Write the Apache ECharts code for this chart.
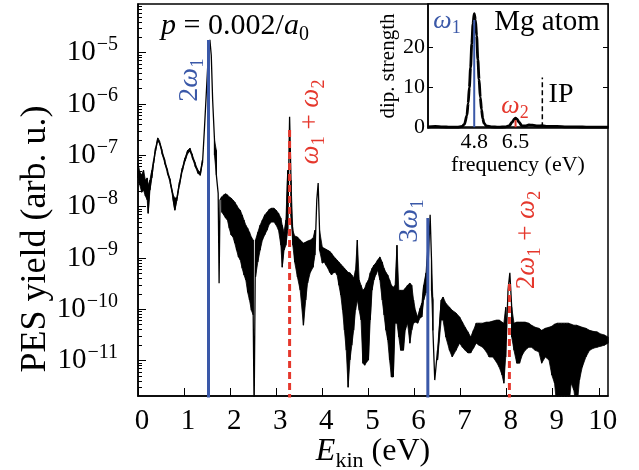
<!DOCTYPE html>
<html><head><meta charset="utf-8">
<script src="https://cdn.jsdelivr.net/npm/echarts@6/dist/echarts.min.js"></script>
<style>html,body{margin:0;padding:0;background:#fff}#c{width:639px;height:470px}</style>
</head><body><div id="c"></div>
<script>
// ---- main spectrum: kinetic energy (eV) and log10(PES yield); hi/lo = extremes of the fast oscillation (null = single point)
const curveE = [0.00,0.04,0.08,0.12,0.16,0.20,0.22,0.26,0.30,0.34,0.38,0.43,0.47,0.52,0.58,0.64,0.70,0.76,0.80,0.84,0.90,0.96,1.02,1.08,1.13,1.18,1.24,1.30,1.35,1.40,1.44,1.48,1.52,1.56,1.59,1.62,1.66,1.70,1.74,1.76,1.78,
1.82,1.86,1.90,1.94,1.98,2.02,2.06,2.10,2.14,2.18,2.22,2.26,2.30,2.34,2.38,2.42,2.46,2.50,2.52,2.55,2.60,2.65,2.70,2.75,2.80,2.85,2.90,2.95,3.00,3.05,3.10,3.13,3.17,3.21,3.25,3.29,3.32,3.36,3.40,3.46,3.52,3.59,3.64,3.68,3.74,3.80,3.84,3.88,3.91,3.94,
4.00,4.04,4.08,4.12,4.16,4.20,4.24,4.28,4.32,4.36,4.40,4.44,4.48,4.52,4.56,4.60,4.64,4.68,4.72,4.76,4.80,4.84,4.88,4.92,4.96,5.00,5.04,5.08,5.12,5.16,5.20,5.25,5.30,5.34,5.38,5.42,5.46,5.50,5.54,5.58,5.62,5.66,5.70,5.76,5.80,5.85,5.90,5.94,5.98,
6.02,6.07,6.12,6.16,6.20,6.25,6.30,6.34,6.37,6.40,6.44,6.50,6.58,6.62,6.68,6.76,6.82,6.90,6.98,7.04,7.10,7.16,7.22,7.28,7.34,7.40,7.48,7.56,7.62,7.70,7.78,7.84,7.90,7.94,7.98,8.03,8.07,8.11,8.16,8.22,8.28,8.34,8.40,8.48,8.54,8.62,8.70,8.76,8.84,8.92,8.98,
9.04,9.10,9.16,9.22,9.28,9.34,9.40,9.46,9.52,9.58,9.64,9.72,9.80,9.88,9.96,10.04,10.12,10.20];
const curveHi = [-7.15,-7.33,-7.38,-7.29,-7.48,-7.44,-7.58,-7.48,-7.29,-7.09,-6.86,-6.66,-6.72,-6.90,-7.09,-7.29,-7.48,-7.77,-7.83,-7.83,-7.52,-7.25,-7.05,-6.90,-6.86,-6.99,-7.15,-7.29,-7.33,-7.09,-6.51,-5.83,-5.14,-4.75,-5.05,-5.92,-6.70,-6.90,-7.74,-9.49,-7.87,
-7.81,-7.77,-7.75,-7.77,-7.81,-7.83,-7.87,-7.91,-7.97,-8.03,-8.07,-8.16,-8.26,-8.36,-8.42,-8.50,-8.59,-8.65,-12,-8.65,-8.50,-8.36,-8.26,-8.16,-8.11,-8.05,-8.03,-8.03,-8.07,-8.13,-8.22,-8.36,-8.50,-8.26,-7.29,-6.25,-7.48,-8.46,-8.57,-8.59,-8.65,-8.71,-8.69,-8.67,-8.65,-8.61,-8.46,-7.87,-7.54,-8.46,
-8.79,-8.81,-8.83,-8.85,-8.87,-8.91,-8.96,-9.00,-9.04,-9.08,-9.12,-9.16,-9.20,-9.24,-9.28,-9.29,-9.33,-9.39,-9.24,-8.65,-9.43,-9.53,-9.63,-9.59,-9.49,-9.43,-9.29,-9.20,-9.14,-9.10,-9.04,-8.98,-9.08,-9.20,-9.28,-9.33,-9.43,-9.53,-9.57,-9.53,-8.75,-9.63,-9.63,-9.63,-9.59,-9.53,-9.49,-9.53,-9.82,
-10.02,-10.15,-9.98,-9.88,-9.53,-9.29,-8.65,-8.16,-9.04,-9.82,-11.38,-10.80,-9.82,-9.76,-9.88,-9.96,-10.02,-10.07,-10.15,-10.25,-10.35,-10.44,-10.54,-10.41,-10.27,-10.27,-10.27,-10.25,-10.25,-10.23,-10.21,-10.21,-10.25,-10.27,-9.96,-9.63,-9.29,-9.96,-10.27,-10.25,-10.25,-10.25,-10.25,-10.27,-10.31,-10.35,-10.37,-10.41,-10.37,-10.35,-10.33,
-10.29,-10.27,-10.27,-10.27,-10.27,-10.27,-10.29,-10.31,-10.31,-10.33,-10.35,-10.37,-10.41,-10.43,-10.44,-10.48,-10.50,-10.54];
const curveLo = [-7.44,-7.58,-7.72,-7.68,-7.79,-7.87,-8.13,-7.68,-7.44,-7.15,-6.92,-6.70,-6.77,-6.96,-7.15,-7.35,-7.54,-7.85,-8.07,-7.89,-7.58,-7.31,-7.11,-6.96,-6.92,-7.05,-7.21,-7.35,-7.39,-7.15,null,null,null,null,null,null,-7.00,-7.38,null,null,null,
-8.11,-8.16,-8.22,-8.26,-8.42,-8.55,-8.59,-8.71,-8.85,-8.98,-9.04,-9.20,-9.33,-9.43,-9.67,-9.82,-10.02,-10.11,null,-9.37,-9.08,-8.85,-8.65,-8.55,-8.46,-8.34,-8.30,-8.30,-8.36,-8.46,-8.75,-9.18,-8.85,-8.75,-8.46,null,-8.16,-8.75,-9.08,-9.37,-9.63,-10.31,-9.82,-9.49,-9.28,-9.18,-8.94,null,null,-8.85,
-9.10,-9.08,-9.14,-9.20,-9.28,-9.33,-9.29,-9.28,-9.33,-9.53,-9.72,-10.02,-10.41,-10.80,-11.52,-10.99,-10.70,-10.41,-10.02,-9.82,-10.02,-10.21,-11.05,-11.09,-11.03,-10.99,-10.21,-9.63,-9.43,-9.33,-9.24,-9.43,-9.82,-10.11,-10.41,-10.60,-10.99,-11.32,-11.32,-10.27,-10.27,-10.54,-10.80,-10.80,-10.41,-10.27,-10.66,-10.41,-10.27,
-10.25,-10.27,-10.17,-10.15,-9.82,-9.68,-9.04,null,-9.63,-10.41,null,-10.99,-10.21,-10.21,-10.54,-10.80,-10.93,-10.80,-10.66,-10.74,-10.80,-10.85,-10.85,-10.76,-10.66,-10.70,-10.74,-10.83,-10.93,-10.93,-11.03,-11.13,-11.28,-11.44,-10.93,null,null,-10.54,-10.80,-11.05,-11.05,-10.89,-10.80,-10.74,-10.74,-10.80,-10.83,-11.05,-10.93,-10.99,-11.28,
-11.44,-12,-12,-12,-12,-12,-11.44,-11.58,-12,-11.38,-11.13,-10.93,-10.80,-10.76,-10.74,-10.72,-10.70,-10.66];
// marker lines: 2w1, 3w1 (blue) and w1+w2, 2w1+w2 (red dashed); energies and log10 tops
const harmonicE = [1.53, 6.29], harmonicTop = [-4.75, -8.22];
const mixE = [3.29, 8.06], mixTop = [-6.45, -9.43];
const xTickVals = [0,1,2,3,4,5,6,7,8,9,10];
const yTickExp = [-11,-10,-9,-8,-7,-6,-5];
// ---- inset: dipole strength vs frequency
const insetE = [2.9,3.2,3.5,3.8,4.1,4.3,4.4,4.5,4.55,4.6,4.65,4.7,4.75,4.8,4.85,4.9,4.95,5.0,5.05,5.1,5.15,5.2,5.3,5.5,5.8,6.1,6.25,6.35,6.45,6.5,6.55,6.65,6.75,6.9,7.05,7.2,7.4,7.6,7.8,8.2,8.6,9.0,9.5,10.3];
const insetS = [0.1,0.2,0.1,0.0,0.0,0.2,0.8,3,6,10,15,21,26,28.6,27,23,17,12,7.5,4.5,2.2,1.0,0.3,0.1,0.0,0.1,0.4,1.2,2.0,2.3,2.1,1.2,0.4,0.3,0.6,0.5,0.3,0.4,0.2,0.2,0.1,0.1,0.0,0.0];
const insetXTicks = [4.8, 6.5], insetYTicks = [0,10,20];
const omega1 = 4.8, omega1Top = 27, omega2 = 6.5, omega2Top = 1.8, ipE = 7.6, ipTop = 12.5;

const FONT = 'Liberation Serif';
const BLUE = '#3a58a8', RED = '#e5372c';
const yMin = -11.69, yMax = -4.05;

const curve = [];
curveE.forEach((e, i) => {
  curve.push([e, curveHi[i]]);
  if (curveLo[i] !== null) curve.push([e, curveLo[i]]);
});
// contiguous runs where the trace oscillates fast (drawn as a filled band)
const bands = [];
let run = null;
curveE.forEach((e, i) => {
  if (curveLo[i] !== null) { if (!run) { run = []; bands.push(run); } run.push(i); }
  else run = null;
});
const minorVals = [];
for (let n = -12; n <= -5; n++) for (let k = 2; k <= 9; k++) {
  const v = n + Math.log10(k);
  if (v > yMin && v < yMax) minorVals.push(v);
}
const vline = (e, top, color, type, width, xi, yi, bottom) => ({
  type: 'line', xAxisIndex: xi, yAxisIndex: yi, data: [[e, bottom], [e, top]],
  showSymbol: false, silent: true, z: 4, clip: true,
  lineStyle: { color, width, type }
});

const chart = echarts.init(document.getElementById('c'), null, { renderer: 'canvas' });
const txt = (x, y, text, size, color, rot, rich) => ({
  type: 'text', x, y, rotation: rot || 0, z: 100,
  style: { text, fill: color, fontFamily: FONT, fontSize: size, align: 'center', verticalAlign: 'middle', rich: rich || {} }
});
const mathRich = (size, color) => ({
  i: { fontStyle: 'italic', fontSize: size, fontFamily: FONT, color },
  r: { fontSize: size, fontFamily: FONT, color },
  sub: { fontSize: Math.round(size * 0.68), fontFamily: FONT, color, padding: [Math.round(size * 0.58), 0, 0, 0] }
});

chart.setOption({
  animation: false,
  grid: [
    { left: 138, top: 4, width: 470, height: 392, show: true, borderColor: '#000', borderWidth: 1.5, backgroundColor: 'rgba(0,0,0,0)' },
    { left: 428, top: 4, width: 180, height: 124, show: true, borderColor: '#000', borderWidth: 1.5, backgroundColor: '#fff' }
  ],
  xAxis: [
    { gridIndex: 0, type: 'value', min: 0, max: 10.2,
      axisLine: { lineStyle: { color: '#000', width: 1.5 } },
      axisTick: { inside: true, length: 8, customValues: xTickVals, lineStyle: { color: '#000', width: 1 } },
      axisLabel: { customValues: xTickVals, fontFamily: FONT, fontSize: 29, color: '#000', margin: 11, padding: [0, 0, 0, 8], hideOverlap: false },
      splitLine: { show: false } },
    { gridIndex: 1, type: 'value', min: 2.9, max: 10.3,
      axisLine: { lineStyle: { color: '#000', width: 1.5 } },
      axisTick: { inside: true, length: 4, customValues: insetXTicks, lineStyle: { color: '#000' } },
      axisLabel: { customValues: insetXTicks, formatter: v => v.toFixed(1), fontFamily: FONT, fontSize: 22, color: '#000', margin: 3, hideOverlap: false },
      splitLine: { show: false },
      name: 'frequency (eV)', nameLocation: 'middle', nameGap: 15,
      nameTextStyle: { fontFamily: FONT, fontSize: 22, color: '#000' } }
  ],
  yAxis: [
    { gridIndex: 0, type: 'value', min: yMin, max: yMax, position: 'left',
      axisLine: { lineStyle: { color: '#000', width: 1.5 } },
      axisTick: { inside: true, length: 8, customValues: yTickExp, lineStyle: { color: '#000', width: 1 } },
      axisLabel: { customValues: yTickExp, margin: 20, hideOverlap: false, formatter: v => '{b|10}{s|−' + Math.round(-v) + '}',
        rich: { b: { fontFamily: FONT, fontSize: 29, color: '#000' },
                s: { fontFamily: FONT, fontSize: 20, color: '#000', padding: [0, 0, 16, 1] } } },
      splitLine: { show: false } },
    { gridIndex: 0, type: 'value', min: yMin, max: yMax, position: 'left', offset: 0,
      axisLine: { show: false },
      axisTick: { inside: true, length: 4, customValues: minorVals, lineStyle: { color: '#000', width: 1 } },
      axisLabel: { show: false }, splitLine: { show: false } },
    { gridIndex: 1, type: 'value', min: -0.2, max: 31, position: 'left',
      axisLine: { lineStyle: { color: '#000', width: 1.5 } },
      axisTick: { inside: true, length: 5, customValues: insetYTicks, lineStyle: { color: '#000' } },
      axisLabel: { customValues: insetYTicks, fontFamily: FONT, fontSize: 22, color: '#000', margin: 3, hideOverlap: false },
      splitLine: { show: false },
      name: 'dip. strength', nameLocation: 'middle', nameGap: 27, nameRotate: 90,
      nameTextStyle: { fontFamily: FONT, fontSize: 21, color: '#000' } },
    { gridIndex: 1, type: 'value', min: -0.2, max: 31, position: 'right', offset: 0,
      axisLine: { show: false },
      axisTick: { inside: true, length: 5, customValues: insetYTicks, lineStyle: { color: '#000' } },
      axisLabel: { show: false }, splitLine: { show: false } }
  ],
  series: [
    { type: 'custom', xAxisIndex: 0, yAxisIndex: 0, clip: true, z: 3, silent: true,
      data: bands.map((b, k) => [curveE[b[0]], curveHi[b[0]], k]),
      encode: { x: 0, y: 1 },
      renderItem: (params, api) => {
        const idx = bands[params.dataIndex];
        const top = idx.map(i => api.coord([curveE[i], curveHi[i]]));
        const bot = idx.slice().reverse().map(i => api.coord([curveE[i], curveLo[i]]));
        return { type: 'polygon', shape: { points: top.concat(bot) }, style: { fill: '#000', stroke: '#000', lineWidth: 0.8 } };
      } },
    { type: 'line', xAxisIndex: 0, yAxisIndex: 0, data: curve, showSymbol: false, clip: true, z: 3,
      lineStyle: { color: '#000', width: 1.3 } },
    vline(harmonicE[0], harmonicTop[0], BLUE, 'solid', 3, 0, 0, -12),
    vline(harmonicE[1], harmonicTop[1], BLUE, 'solid', 3, 0, 0, -12),
    vline(mixE[0], mixTop[0], RED, [7, 4], 3, 0, 0, -12),
    vline(mixE[1], mixTop[1], RED, [7, 4], 3, 0, 0, -12),
    { type: 'line', xAxisIndex: 1, yAxisIndex: 2, data: insetE.map((e, i) => [e, insetS[i]]), showSymbol: false, clip: true, z: 5,
      smooth: 0.3, smoothMonotone: 'x', lineStyle: { color: '#000', width: 2.8 } },
    Object.assign(vline(omega1, omega1Top, BLUE, 'solid', 2, 1, 2, 0), { z: 6 }),
    Object.assign(vline(omega2, omega2Top, RED, 'solid', 2, 1, 2, 0), { z: 6 }),
    Object.assign(vline(ipE, ipTop, '#000', [5, 3], 1.5, 1, 2, 0), { z: 6 })
  ],
  graphic: [
    txt(235, 26, '{i|p}{r| = 0.002/}{i|a}{sub|0}', 30, '#000', 0, mathRich(30, '#000')),
    txt(190, 80, '{r|2}{i|ω}{sub|1}', 28, BLUE, Math.PI / 2, mathRich(28, BLUE)),
    txt(311, 122, '{i|ω}{sub|1}{r| + }{i|ω}{sub|2}', 27, RED, Math.PI / 2, mathRich(27, RED)),
    txt(410, 221, '{r|3}{i|ω}{sub|1}', 28, BLUE, Math.PI / 2, mathRich(28, BLUE)),
    txt(527, 240, '{r|2}{i|ω}{sub|1}{r| + }{i|ω}{sub|2}', 27, RED, Math.PI / 2, mathRich(27, RED)),
    txt(36, 239, 'PES yield (arb. u.)', 36, '#000', Math.PI / 2),
    txt(373, 452, '{i|E}{sub|kin}{r| (eV)}', 32, '#000', 0, mathRich(32, '#000')),
    txt(447, 21, '{i|ω}{sub|1}', 26, BLUE, 0, mathRich(26, BLUE)),
    txt(515, 106, '{i|ω}{sub|2}', 26, RED, 0, mathRich(26, RED)),
    txt(547, 22, 'Mg atom', 29, '#000', 0),
    txt(561, 95, 'IP', 28, '#000', 0)
  ]
});
</script></body></html>
